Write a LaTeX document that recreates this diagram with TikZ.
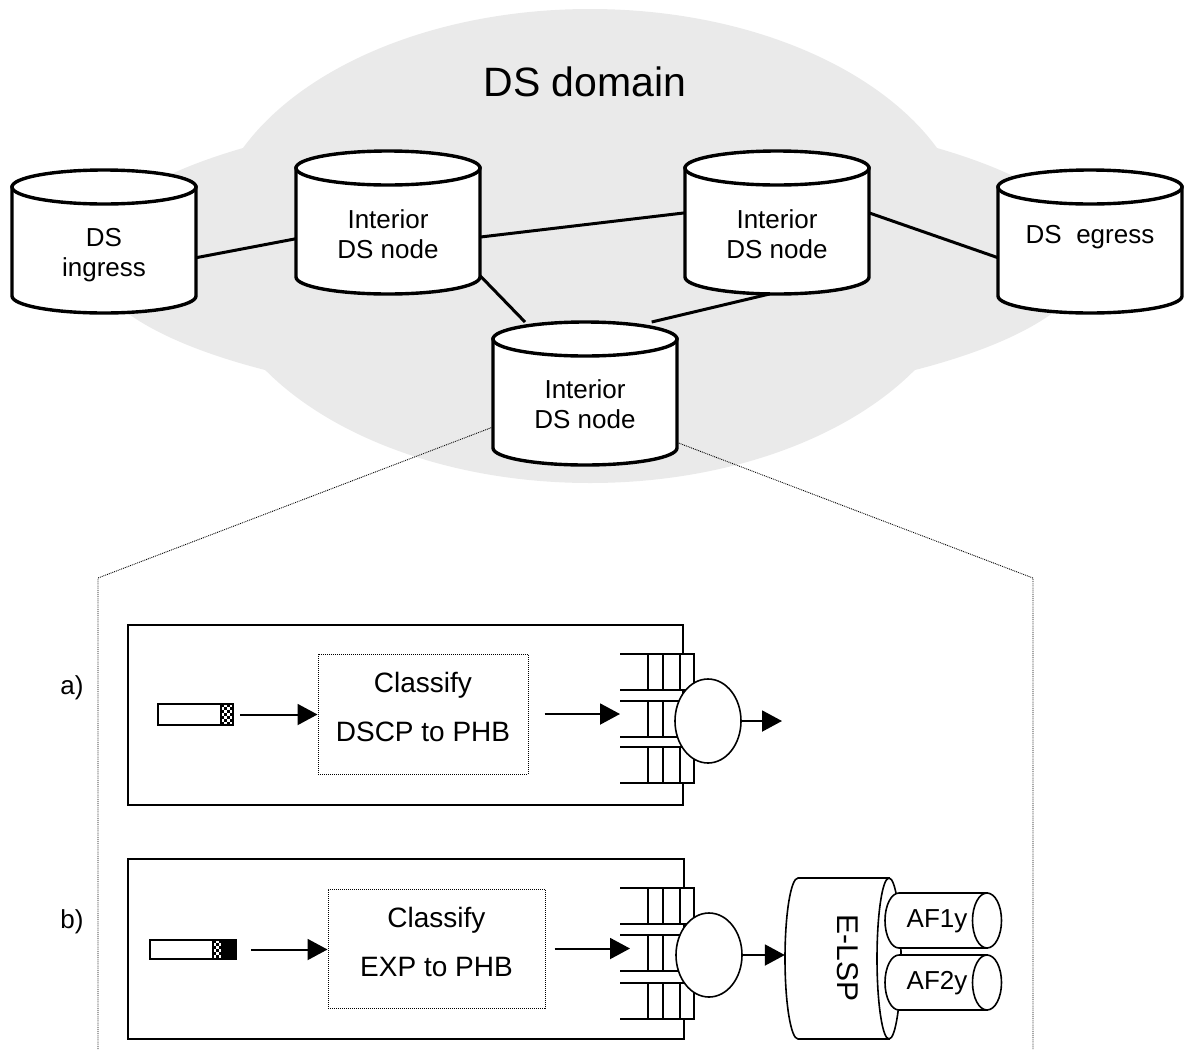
\documentclass[tikz,border=0pt]{standalone}
\usepackage{fontspec}
\setmainfont{Liberation Sans}
\usetikzlibrary{arrows.meta,shapes.geometric}
\definecolor{cloudgray}{RGB}{234,234,234}
\tikzset{
  cylline/.style={line width=3.4pt, draw=black, fill=white},
  cylnode/.style={minimum width=184pt, minimum height=143pt, inner sep=0pt, outer sep=0pt},
  cyltext/.style={font=\fontsize{26}{30}\selectfont, align=center, inner sep=0pt},
  link/.style={line width=3pt},
  zoomline/.style={line width=0.9pt, densely dotted},
  framebox/.style={draw, line width=2pt, inner sep=0pt, outer sep=0pt},
  classbox/.style={draw, line width=1pt, densely dotted, inner sep=0pt, font=\fontsize{28}{49}\selectfont, align=center, text depth=14pt},
  qline/.style={line width=1.6pt},
  qcell/.style={inner sep=0pt, outer sep=0pt, minimum width=74pt, minimum height=36pt, fill=white},
  sched/.style={draw, ellipse, line width=1.6pt, fill=white, minimum width=66pt, minimum height=84pt, inner sep=0pt},
  arr/.style={line width=2pt, -{Triangle[length=20pt,width=21pt]}},
  packet/.style={draw, line width=1.5pt, fill=white, inner sep=0pt, outer sep=0pt},
  tubeline/.style={line width=1.6pt, draw=black, fill=white},
  lbl/.style={font=\fontsize{26}{30}\selectfont, inner sep=0pt},
}
\newcommand\dscyl[3]{%
  \draw[cylline] ({#2-92},{#3+17}) -- ({#2-92},{#3+126}) arc[start angle=180,end angle=360,x radius=92pt,y radius=17pt] -- ({#2+92},{#3+17}) -- cycle;
  \draw[cylline] (#2,{#3+17}) ellipse[x radius=92pt,y radius=17pt];
  \node[cylnode] (#1) at (#2,{#3+71.5}) {};
}
\newcommand\qrow[2]{%
  \node[qcell] (#1) at (657,{#2+18}) {};
  \draw[qline] (620,#2) -- (694,#2) -- (694,{#2+36}) -- (620,{#2+36});
  \draw[qline] (648,#2) -- (648,{#2+36}) (663,#2) -- (663,{#2+36}) (680,#2) -- (680,{#2+36});
}
\newcommand\aftube[3]{%
  \draw[tubeline] (899,{#2-27.5}) arc[start angle=90,end angle=270,x radius=14pt,y radius=27.5pt] -- (987,{#2+27.5}) -- (987,{#2-27.5}) -- cycle;
  \draw[tubeline] (987,#2) ellipse[x radius=14.5pt,y radius=27.5pt];
  \node[inner sep=0pt, minimum width=116pt, minimum height=55pt] (#1) at (943,#2) {};
  \node[lbl] (#1-t) at (937,{#2+1}) {#3};
}
\begin{document}
\begin{tikzpicture}[x=1pt,y=-1pt]
\useasboundingbox (0,0) rectangle (1186,1050);
% cloud
\fill[cloudgray] (590,246) ellipse[x radius=381pt,y radius=237pt];
\fill[cloudgray] (590,256) ellipse[x radius=500pt,y radius=150pt];
\node[font=\fontsize{41}{48}\selectfont, inner sep=0pt] (dom) at (585,82) {DS domain};
% cylinders
\dscyl{ing}{104}{170}
\dscyl{ia}{388}{151}
\dscyl{ib}{777}{151}
\dscyl{egr}{1090}{170}
\dscyl{ic}{585}{322}
\node[cyltext] (ing-t) at (104,255) {DS\\ingress};
\node[cyltext] (ia-t) at (388,234) {Interior\\DS node};
\node[cyltext] (ib-t) at (777,234) {Interior\\DS node};
\node[cyltext] (egr-t) at (1090,237) {DS\ \ egress};
\node[cyltext] (ic-t) at (585,404) {Interior\\DS node};
% links
\draw[link] (ing.-10) -- (ia.-170);
\draw[link] (ia.-9) -- (ib.174);
\draw[link] (ib.6) -- (egr.-170);
\draw[link] (ia.-30) -- (ic.130);
\draw[link] (ib.-96) -- (ic.47);
% zoom lines
\coordinate (zl1) at (98,578);
\coordinate (zl2) at (98,1050);
\coordinate (zr1) at (1033,578);
\coordinate (zr2) at (1033,1050);
\draw[zoomline] (ic.-160) -- (zl1) -- (zl2);
\draw[zoomline] (ic.-28) -- (zr1) -- (zr2);
% ---- a)
\node[lbl] (la) at (72,688) {a)};
\node[framebox, minimum width=555pt, minimum height=180pt] (boxa) at (405.5,715) {};
\node[packet, minimum width=75pt, minimum height=21pt] (pa) at (195.5,714.5) {};
\begin{scope}
  \clip (221,704) rectangle (233,725);
  \foreach \ci in {0,...,3}{\foreach \cj in {0,...,6}{%
    \pgfmathtruncatemacro\cpar{mod(\ci+\cj,2)}%
    \ifnum\cpar=0 \fill (221+3*\ci,704+3*\cj) rectangle ++(3,3);\fi}}
\end{scope}
\draw[line width=1.5pt] (221,704) rectangle (233,725);
\node[classbox, minimum width=210pt, minimum height=120pt] (cla) at (423,714) {Classify\\DSCP to PHB};
\qrow{qa1}{654}
\qrow{qa2}{701}
\qrow{qa3}{747}
\node[sched] (sa) at (708,721) {};
\coordinate (outa) at (782,721);
\draw[arr, shorten <=7pt] (pa.east) -- (pa.east -| cla.west);
\draw[arr, shorten <=16pt] (cla.east) -- (cla.east -| qa2.west);
\draw[arr] (sa.east) -- (outa);
% ---- b)
\node[lbl] (lb) at (72,922) {b)};
\node[framebox, minimum width=556pt, minimum height=180pt] (boxb) at (406,949) {};
\node[packet, minimum width=86pt, minimum height=19pt] (pb) at (193,949.5) {};
\begin{scope}
  \clip (213,940) rectangle (222,959);
  \foreach \ci in {0,...,2}{\foreach \cj in {0,...,6}{%
    \pgfmathtruncatemacro\cpar{mod(\ci+\cj,2)}%
    \ifnum\cpar=0 \fill (213+3*\ci,940+3*\cj) rectangle ++(3,3);\fi}}
\end{scope}
\draw[line width=1.5pt] (213,940) rectangle (222,959);
\draw[line width=1.5pt, fill=black] (222,940) rectangle (236,959);
\node[classbox, minimum width=217pt, minimum height=119pt] (clb) at (436.5,948.5) {Classify\\EXP to PHB};
\qrow{qb1}{888}
\qrow{qb2}{935}
\qrow{qb3}{983}
\node[sched] (sb) at (709,955) {};
% E-LSP
\draw[tubeline] (798,878) arc[start angle=90,end angle=270,x radius=13pt,y radius=80.5pt] -- (889,1039) -- (889,878) -- cycle;
\draw[tubeline] (889,958.5) ellipse[x radius=12pt,y radius=80.5pt];
\node[inner sep=0pt, minimum width=116pt, minimum height=161pt] (elsp) at (843,958.5) {};
\node[rotate=-90, font=\fontsize{30}{36}\selectfont, inner sep=0pt] (elsp-t) at (848,958) {E-LSP};
\aftube{afa}{920.5}{AF1y}
\aftube{afb}{982.5}{AF2y}
\draw[arr, shorten <=15pt] (pb.east) -- (pb.east -| clb.west);
\draw[arr, shorten <=9pt, shorten >=-10pt] (clb.east) -- (clb.east -| qb2.west);
\draw[arr] (sb.east) -- (sb.east -| elsp.west);
\end{tikzpicture}
\end{document}
